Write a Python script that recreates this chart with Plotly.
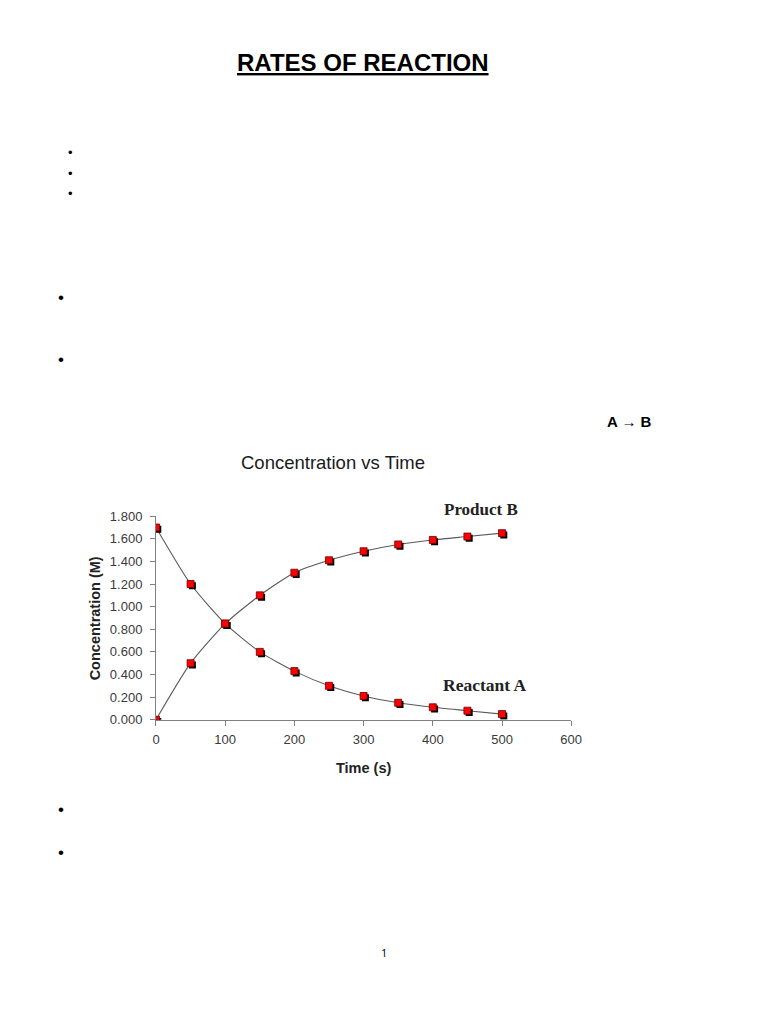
import plotly.graph_objects as go

# ---- data ----
time_s = [0, 50, 100, 150, 200, 250, 300, 350, 400, 450, 500]
reactant_a = [1.70, 1.20, 0.85, 0.60, 0.43, 0.30, 0.21, 0.15, 0.11, 0.08, 0.05]
product_b = [0.00, 0.50, 0.85, 1.10, 1.30, 1.41, 1.49, 1.55, 1.59, 1.62, 1.65]
x_ticks = [0, 100, 200, 300, 400, 500, 600]
y_ticks = [0.0, 0.2, 0.4, 0.6, 0.8, 1.0, 1.2, 1.4, 1.6, 1.8]

W, H = 768, 1024
# the captured page appears slightly scaled; compensate
KX, KY, OY = 0.987, 0.9875, 4.7


def px(x):
    return (x / KX) / W


def py(y):
    return 1 - ((y - OY) / KY) / H


# plot area in page pixels (as seen in reference)
left, right, top, bottom = 153, 571, 515, 719
xdom = [px(left), px(right)]
ydom = [py(bottom), py(top)]
xr = [0, 600]
yr = [0, 1.8]
# shadow offset (pixels) via shifted hidden overlay axes
sx = 1.8 * (xr[1] - xr[0]) / (right - left)
sy = 1.8 * (yr[1] - yr[0]) / (bottom - top)

fig = go.Figure()

line_style = dict(color="#5a5a5a", width=1.1, shape="spline", smoothing=0.6)
for name, vals in [("Reactant A", reactant_a), ("Product B", product_b)]:
    fig.add_trace(go.Scatter(x=time_s, y=vals, mode="lines", line=line_style,
                             name=name, showlegend=False, xaxis="x", yaxis="y"))
for vals in [reactant_a, product_b]:
    fig.add_trace(go.Scatter(x=time_s, y=vals, mode="markers",
                             marker=dict(symbol="square", size=7, color="black"),
                             showlegend=False, xaxis="x2", yaxis="y2"))
for vals in [reactant_a, product_b]:
    fig.add_trace(go.Scatter(x=time_s, y=vals, mode="markers",
                             marker=dict(symbol="square", size=7, color="#ff0000",
                                         line=dict(color="#6a0000", width=0.8)),
                             showlegend=False, xaxis="x3", yaxis="y3"))

axis_common = dict(showgrid=False, zeroline=False)
fig.update_layout(
    width=W, height=H, autosize=False,
    margin=dict(l=0, r=0, t=0, b=0, pad=0),
    showlegend=False,
    paper_bgcolor="white", plot_bgcolor="white",
    font=dict(family="Liberation Sans, Arial, sans-serif", color="#333333"),
    xaxis=dict(domain=xdom, range=xr, tickvals=x_ticks, ticks="outside", ticklen=5,
               tickcolor="#808080", showline=True, linecolor="#808080", linewidth=1,
               ticklabelstandoff=3,
               tickfont=dict(size=13, color="#3a3a3a"), **axis_common),
    yaxis=dict(domain=ydom, range=yr, tickvals=y_ticks, tickformat=".3f",
               ticks="outside", ticklen=5, tickcolor="#808080", showline=True,
               linecolor="#808080", linewidth=1, ticklabelstandoff=5,
               tickfont=dict(size=13, color="#3a3a3a"), **axis_common),
    xaxis2=dict(domain=xdom, range=[xr[0] - sx, xr[1] - sx], overlaying="x",
                visible=False, **axis_common),
    yaxis2=dict(domain=ydom, range=[yr[0] + sy, yr[1] + sy], overlaying="y",
                visible=False, **axis_common),
    xaxis3=dict(domain=xdom, range=xr, overlaying="x", visible=False, **axis_common),
    yaxis3=dict(domain=ydom, range=yr, overlaying="y", visible=False, **axis_common),
)


def ann(text, x, y, size, family="Liberation Sans, Arial, sans-serif", color="black",
        angle=0):
    fig.add_annotation(text=text, x=px(x), y=py(y), xref="paper", yref="paper",
                       showarrow=False, xanchor="center", yanchor="middle",
                       textangle=angle, font=dict(size=size, family=family, color=color))


# page text
ann("<b><u>RATES OF REACTION</u></b>", 361, 60, 24)
for yb in [151, 172, 192]:
    ann("•", 67, yb, 13)
for yb in [296, 358, 809, 852]:
    ann("•", 57, yb, 17)
ann("<b>A → B</b>", 630, 420, 15)
ann("1", 383, 952, 11, family="Open Sans, sans-serif")

# chart text
ann("Concentration vs Time", 331, 461, 18.5, color="#1a1a1a")
ann("<b>Product B</b>", 480, 508, 17, family="Liberation Serif, Times New Roman, serif",
    color="#222222")
ann("<b>Reactant A</b>", 484, 684, 17.5, family="Liberation Serif, Times New Roman, serif",
    color="#222222")
ann("<b>Time (s)</b>", 362, 767, 14.5, color="#222222")
ann("<b>Concentration (M)</b>", 92, 617, 14.5, color="#222222", angle=-90)

fig.write_html("out.html",
               config={"displayModeBar": False},
               post_script="document.body.style.margin='0';"
                           "document.body.style.overflow='hidden';")
